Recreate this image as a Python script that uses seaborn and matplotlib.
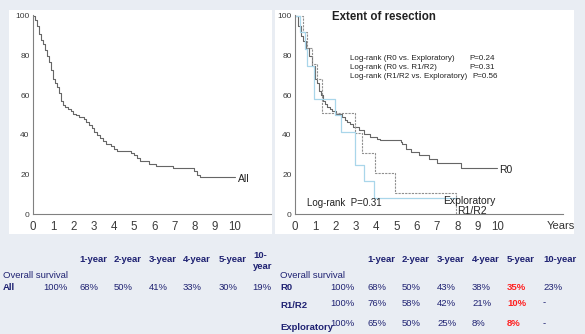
import matplotlib
matplotlib.use("Agg")
import matplotlib.pyplot as plt
import seaborn as sns
from matplotlib.patches import Rectangle
from matplotlib.ticker import FixedLocator

sns.set_style("white")
plt.rcParams['font.family'] = ['Liberation Sans', 'DejaVu Sans']

# --- survival curves (years, % surviving) ---
all_t = [0, 0.1, 0.2, 0.3, 0.4, 0.5, 0.6, 0.7, 0.8, 0.9, 1.0, 1.1, 1.2, 1.3, 1.4, 1.5, 1.6,
         1.75, 1.9, 2.0, 2.15, 2.3, 2.5, 2.6, 2.75, 2.9, 3.0, 3.15, 3.3, 3.45, 3.6, 3.85, 4.0,
         4.15, 4.85, 5.0, 5.15, 5.3, 5.75, 6.1, 6.95, 7.95, 8.1, 8.25, 10.0]
all_s = [100, 98, 95, 91, 88, 86, 83, 80, 77, 73, 68, 66, 64, 61, 57, 55, 54,
         53, 52, 50.5, 50, 49, 48, 46.5, 45, 43.5, 41.5, 40, 38.5, 37, 35.5, 34.5, 33,
         31.7, 30.8, 30, 28.3, 26.7, 25.5, 24.5, 23.3, 21.7, 20, 19, 19]

r0_t = [0, 0.15, 0.3, 0.4, 0.55, 0.7, 0.85, 1.0, 1.1, 1.2, 1.3, 1.38, 1.5, 1.57, 1.7, 1.84,
        2.0, 2.3, 2.45, 2.58, 2.7, 2.85, 3.13, 3.4, 3.68, 4.05, 4.2, 5.2, 5.25, 5.45, 5.7,
        6.1, 6.6, 7.0, 8.2, 9.95]
r0_s = [100, 95, 90, 87.5, 84, 80, 75, 68, 66, 62, 60, 57, 55.5, 54, 53, 52,
        50.7, 49, 47.5, 46.5, 45.5, 44, 42.3, 40.6, 39, 38.2, 37.3, 36.5, 35.3, 33, 31.4,
        29.8, 28, 26, 23.4, 23.4]

r12_t = [0, 0.4, 0.6, 0.85, 1.1, 1.35, 2.95, 3.3, 3.95, 4.95, 7.95]
r12_s = [100, 92, 84, 76, 68, 51, 41, 31, 21, 10.5, 0]

exp_t = [0, 0.25, 0.5, 0.6, 0.92, 0.96, 1.95, 2.25, 2.95, 3.4, 3.87, 8.0]
exp_s = [100, 91.7, 83.3, 75, 66.7, 58.3, 50, 41.7, 25, 16.7, 8.3, 8.3]

logrank_tests = ["Log-rank (R0 vs. Exploratory)", "Log-rank (R0 vs. R1/R2)",
                 "Log-rank (R1/R2 vs. Exploratory)"]
logrank_p = ["P=0.24", "P=0.31", "P=0.56"]

# --- tables ---
years = ["1-year", "2-year", "3-year", "4-year", "5-year", "10-year"]
all_row = ["100%", "68%", "50%", "41%", "33%", "30%", "19%"]
groups = ["R0", "R1/R2", "Exploratory"]
group_rows = [["100%", "68%", "50%", "43%", "38%", "35%", "23%"],
              ["100%", "76%", "58%", "42%", "21%", "10%", "-"],
              ["100%", "65%", "50%", "25%", "8%", "8%", "-"]]

W, H = 585, 334
fig = plt.figure(figsize=(W / 100, H / 100), dpi=100)
fig.patch.set_facecolor('#e9edf3')

def px(x, y):
    return x / W, 1 - y / H

# white panels behind the plots
for x0, x1 in [(9, 272), (275, 574)]:
    fig.patches.append(Rectangle((x0 / W, 1 - 234 / H), (x1 - x0) / W, 224 / H,
                                 transform=fig.transFigure, facecolor='white',
                                 edgecolor='none', zorder=-5))

ax1 = fig.add_axes([33 / W, 1 - 214.3 / H, (271 - 33) / W, 199.3 / H])
ax2 = fig.add_axes([295 / W, 1 - 214.3 / H, (563 - 295) / W, 199.3 / H])

line_dark = '#666666'
sns.lineplot(x=all_t, y=all_s, drawstyle='steps-post', color=line_dark, lw=0.8, ax=ax1)
sns.lineplot(x=r0_t, y=r0_s, drawstyle='steps-post', color=line_dark, lw=0.8, ax=ax2)
sns.lineplot(x=r12_t, y=r12_s, drawstyle='steps-post', color='#909090', lw=0.8,
             linestyle=(0, (2, 1)), ax=ax2)
sns.lineplot(x=exp_t, y=exp_s, drawstyle='steps-post', color='#a9d6ea', lw=0.9, ax=ax2)

for ax, xmax in [(ax1, (271 - 33) / 20.2), (ax2, (563 - 295) / 20.3)]:
    ax.set_facecolor('none')
    ax.set_xlim(0, xmax)
    ax.set_ylim(0, 100.5)
    ax.set_xticks(range(0, 11))
    ax.xaxis.set_minor_locator(FixedLocator([i + 0.5 for i in range(0, 10)]))
    ax.set_yticks(range(0, 101, 20))
    for s in ['top', 'right']:
        ax.spines[s].set_visible(False)
    for s in ['left', 'bottom']:
        ax.spines[s].set_color('#808080')
        ax.spines[s].set_linewidth(0.8)
    ax.tick_params(axis='x', which='major', direction='inout', length=4, width=0.8,
                   color='#555555', labelsize=8.3, pad=3, labelcolor='#3a3a3a')
    ax.tick_params(axis='x', which='minor', direction='inout', length=2, width=0.6,
                   color='#777777')
    ax.tick_params(axis='y', which='major', direction='out', length=2, width=0.7,
                   color='#777777', labelsize=6, pad=0.5, labelcolor='#3a3a3a')
    ax.set_xlabel('')
    ax.set_ylabel('')
    ax.grid(False)
    if ax.get_legend():
        ax.get_legend().remove()

txt = '#222222'
fig.text(*px(238, 179), "All", fontsize=7.5, color=txt, va='center')
fig.text(*px(332, 17), "Extent of resection", fontsize=8.3, fontweight='bold',
         color='#222222', va='center')
for i, (t, p) in enumerate(zip(logrank_tests, logrank_p)):
    fig.text(*px(350, 58 + 9.2 * i), t, fontsize=5.8, color=txt, va='center')
    fig.text(*px(469 + (3 if i == 2 else 0), 58 + 9.2 * i), p, fontsize=5.8,
             color=txt, va='center')
fig.text(*px(307, 203), "Log-rank  P=0.31", fontsize=7, color=txt, va='center')
fig.text(*px(499, 170), "R0", fontsize=7.5, color=txt, va='center')
fig.text(*px(443, 201), "Exploratory", fontsize=7.5, color=txt, va='center')
fig.text(*px(457, 211), "R1/R2", fontsize=7.5, color=txt, va='center')
fig.text(*px(547, 226), "Years", fontsize=8, color='#333333', va='center')

# --- tables ---
navy = '#1f2272'
red = '#ff2222'
fs = 6.8

left_cols = [79, 114, 149, 183, 219]
for x, h in zip(left_cols, years[:5]):
    fig.text(*px(x, 260), h, fontsize=fs, fontweight='bold', color=navy, va='center')
fig.text(*px(253, 261), "10-\nyear", fontsize=fs, fontweight='bold', color=navy,
         va='center', linespacing=1.3)
fig.text(*px(3, 276), "Overall survival", fontsize=fs, color=navy, va='center')
fig.text(*px(3, 287), "All", fontsize=fs, fontweight='bold', color=navy, va='center')
fig.text(*px(68, 287), all_row[0], fontsize=fs, color=navy, va='center', ha='right')
for x, v in zip(left_cols, all_row[1:6]):
    fig.text(*px(x, 287), v, fontsize=fs, color=navy, va='center')
fig.text(*px(271, 287), all_row[6], fontsize=fs, color=navy, va='center', ha='right')

right_cols = [367, 402, 437, 472, 507, 543]
for x, h in zip(right_cols, years):
    fig.text(*px(x, 260), h, fontsize=fs, fontweight='bold', color=navy, va='center')
fig.text(*px(280, 276), "Overall survival", fontsize=fs, color=navy, va='center')
label_y = [287, 305, 327]
value_y = [287, 303, 324]
for g, row, ly, vy in zip(groups, group_rows, label_y, value_y):
    fig.text(*px(280, ly), g, fontsize=fs, fontweight='bold', color=navy, va='center')
    fig.text(*px(355, vy), row[0], fontsize=fs, color=navy, va='center', ha='right')
    for j, (x, v) in enumerate(zip(right_cols, row[1:])):
        is5 = (j == 4)
        fig.text(*px(x, vy), v, fontsize=fs, color=red if is5 else navy,
                 fontweight='bold' if is5 else 'normal', va='center')

fig.savefig("out.png", dpi=100, facecolor=fig.get_facecolor())
